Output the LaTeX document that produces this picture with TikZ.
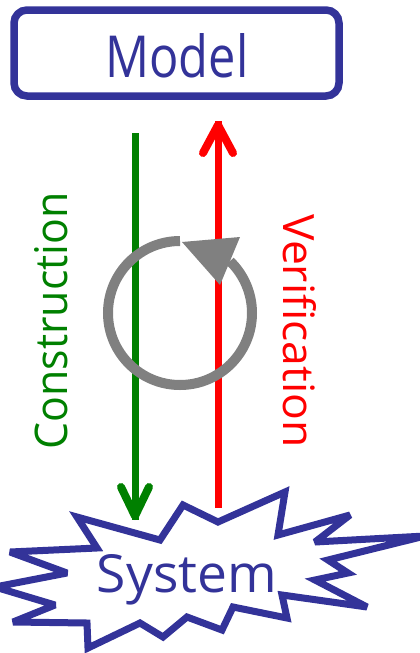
\documentclass[tikz,border=0pt]{standalone}
\usepackage{fontspec}
\setmainfont{Open Sans}
\usepackage{graphicx}
\definecolor{mblue}{HTML}{333399}
\definecolor{mgreen}{HTML}{008000}
\definecolor{mred}{HTML}{FF0000}
\definecolor{mgray}{HTML}{808080}
\begin{document}
\begin{tikzpicture}[x=1pt,y=-1pt,
  boxline/.style={draw=mblue,line width=7.5pt,rounded corners=13pt},
  burstline/.style={draw=mblue,line width=7pt,line join=miter,miter limit=3,fill=white},
  shaft/.style={line width=7pt},
  head/.style={line width=8pt,line cap=round,line join=round},
  lbl/.style={inner sep=0pt,outer sep=0pt}]
\useasboundingbox (0,0) rectangle (420,653);
\clip (0,0) rectangle (420,653);
% Model box
\draw[boxline] (14,10) rectangle (339,96);
\node[lbl,anchor=base,text=mblue] (model) at (177,77) {\resizebox{143pt}{44pt}{Model}};
% starburst
\draw[burstline] (77,517) -- (160,540) -- (183,505) -- (218,522) -- (285,492) -- (278,535)
  -- (350,515) -- (315,542) -- (425,536) -- (328,560) -- (348,573) -- (315,580)
  -- (367,607) -- (282,595) -- (287,618) -- (233,607) -- (222,630) -- (187,617)
  -- (163,637) -- (140,623) -- (88,648) -- (87,623) -- (13,622) -- (55,605)
  -- (-5,587) -- (67,573) -- (10,552) -- (97,548) -- cycle;
\node[lbl,anchor=base,text=mblue] (system) at (187,592) {\resizebox{180pt}{38pt}{System}};
% coordinates
\coordinate (gtop) at (135,133);
\coordinate (gtip) at (135,516);
\coordinate (gl) at (121,487);
\coordinate (gr) at (149,487);
\coordinate (rbot) at (218,508);
\coordinate (rtip) at (218,125);
\coordinate (rl) at (203,153);
\coordinate (rr) at (233,153);
% green arrow
\draw[mgreen,shaft] (gtop) -- ([yshift=-4pt]gtip);
\draw[mgreen,head] (gl) -- (gtip) -- (gr);
% red arrow
\draw[mred,shaft] (rbot) -- ([yshift=4pt]rtip);
\draw[mred,head] (rl) -- (rtip) -- (rr);
% cycle arrow
\coordinate (cc) at (180,313);
\draw[mgray,line width=10pt] ([shift={(270:72)}]cc) arc (270:-46:72);
\fill[mgray] (182,242) -- (240,237) -- (220,285) -- cycle;
% labels
\node[lbl,anchor=base,rotate=90,text=mgreen] (constr) at (67,321) {\resizebox{257pt}{33pt}{Construction}};
\node[lbl,anchor=base,rotate=-90,text=mred] (verif) at (283,331) {\resizebox{233pt}{33pt}{Verification}};
\end{tikzpicture}
\end{document}
